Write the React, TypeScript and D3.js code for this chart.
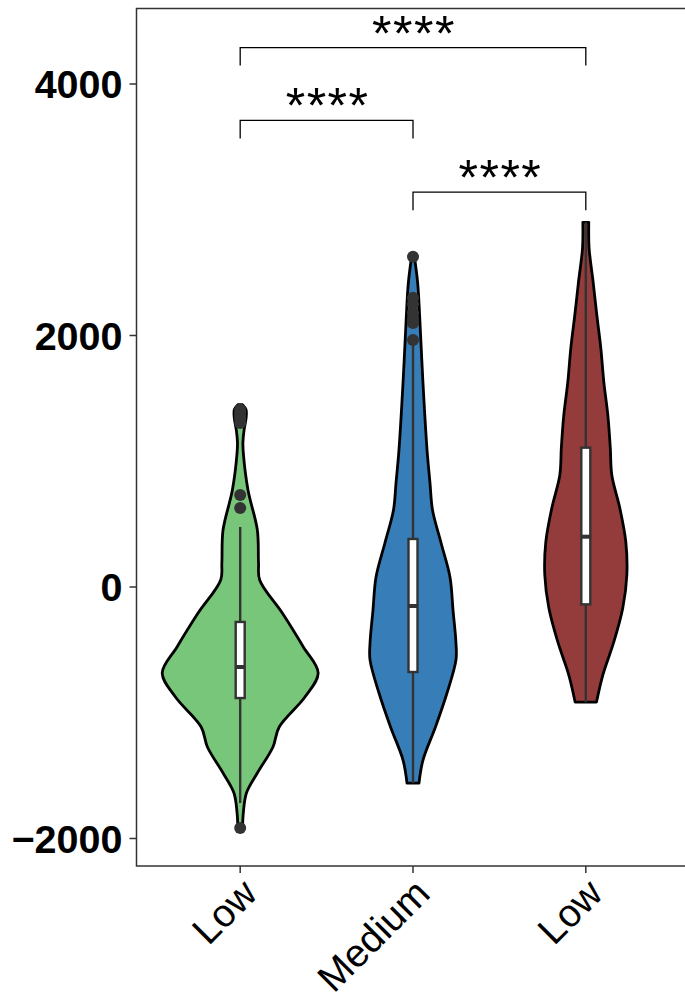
import React from "react";
import * as d3 from "d3";

// ---- data ----
const groupIds = ["g1", "g2", "g3"];
const groupLabels = ["Low", "Medium", "Low"];
const groupColors = ["#78C679", "#377EB8", "#943C3C"];

const yTicks = [-2000, 0, 2000, 4000];

// violin outlines: [value, relative density]
const densityG1: [number, number][] = [
  [1450, 0.03], [1410, 0.075], [1340, 0.075], [1250, 0.05], [1150, 0.035], [1066, 0.04],
  [771, 0.1], [453, 0.22], [191, 0.235], [56, 0.25], [-207, 0.54], [-477, 0.81],
  [-684, 1.0], [-875, 0.83], [-1113, 0.5], [-1272, 0.42], [-1479, 0.22],
  [-1638, 0.08], [-1797, 0.04], [-1925, 0.03],
];
const densityG2: [number, number][] = [
  [2640, 0.015], [2417, 0.06], [2147, 0.086], [1622, 0.128], [1089, 0.18], [827, 0.218],
  [612, 0.25], [350, 0.36], [80, 0.474], [-183, 0.513], [-445, 0.551], [-580, 0.551],
  [-843, 0.436], [-1113, 0.288], [-1376, 0.128], [-1559, 0.077],
];
const densityG3: [number, number][] = [
  [2900, 0.038], [2696, 0.042], [2425, 0.094], [2163, 0.141], [1901, 0.192], [1630, 0.231],
  [1368, 0.282], [1105, 0.314], [891, 0.333], [628, 0.436], [358, 0.513], [95, 0.526],
  [-167, 0.474], [-437, 0.359], [-700, 0.218], [-915, 0.137],
];
const densities = [densityG1, densityG2, densityG3];

// box stats: [whiskerLow, q1, median, q3, whiskerHigh]
const boxStats: [number, number, number, number, number][] = [
  [-1718, -883, -636, -278, 477],
  [-1559, -676, -151, 382, 1950],
  [-915, -138, 400, 1108, 2900],
];
const outliersG1 = [1410, 1385, 1360, 1335, 1305, 732, 628, -1917];
const outliersG2 = [2627, 2300, 2250, 2180, 2120, 2100, 1964];
const outliersG3: number[] = [];
const outliers = [outliersG1, outliersG2, outliersG3];

// significance comparisons: [from, to, bracket value, label]
const comparisons: [number, number, number, string][] = [
  [0, 1, 3710, "****"],
  [1, 2, 3140, "****"],
  [0, 2, 4290, "****"],
];

const W = 685;
const H = 999;
const panel = { left: 136.5, right: 689.5, top: 8.5, bottom: 866 };

export default function App() {
  const x = d3.scalePoint<string>().domain(groupIds).range([panel.left, panel.right]).padding(0.6);
  const y = d3.scaleLinear().domain([-2000, 4000]).range([838.5, 84]);
  const w = d3.scaleLinear().domain([0, 1]).range([0, 78]);
  const boxHalf = 4.5;
  const tickDrop = 18;

  return (
    <svg width={W} height={H} style={{ position: "absolute", left: 0, top: 0, background: "#fff" }}
      fontFamily="'Liberation Sans', Arial, Helvetica, sans-serif">
      <rect x={0} y={0} width={W} height={H} fill="#fff" />
      {/* violins */}
      {groupIds.map((g, i) => {
        const cx = x(g)!;
        const area = d3.area<[number, number]>()
          .y((d) => y(d[0]))
          .x0((d) => cx - w(d[1]))
          .x1((d) => cx + w(d[1]))
          .curve(d3.curveCatmullRom);
        return (
          <path key={"v" + g} d={area(densities[i]) || ""} fill={groupColors[i]} stroke="#000" strokeWidth={2.8} strokeLinejoin="round" />
        );
      })}
      {/* boxplots */}
      {groupIds.map((g, i) => {
        const cx = x(g)!;
        const [lo, q1, med, q3, hi] = boxStats[i];
        return (
          <g key={"b" + g}>
            <line x1={cx} x2={cx} y1={y(hi)} y2={y(q3)} stroke="#333" strokeWidth={2.4} />
            <line x1={cx} x2={cx} y1={y(q1)} y2={y(lo)} stroke="#333" strokeWidth={2.4} />
            <rect x={cx - boxHalf} width={boxHalf * 2} y={y(q3)} height={y(q1) - y(q3)} fill="#fff" stroke="#333" strokeWidth={2.4} />
            <line x1={cx - boxHalf} x2={cx + boxHalf} y1={y(med)} y2={y(med)} stroke="#333" strokeWidth={4} />
            {outliers[i].map((o, k) => (
              <circle key={k} cx={cx} cy={y(o)} r={6} fill="#333" />
            ))}
          </g>
        );
      })}
      {/* significance brackets */}
      {comparisons.map(([a, b, v, lab], k) => {
        const x1 = x(groupIds[a])!;
        const x2 = x(groupIds[b])!;
        const yy = y(v);
        return (
          <g key={"c" + k}>
            <path d={`M${x1},${yy + tickDrop}V${yy}H${x2}V${yy + tickDrop}`} fill="none" stroke="#000" strokeWidth={1.3} />
            <text x={(x1 + x2) / 2 + 1} y={yy + 3} textAnchor="middle" fontSize={50} letterSpacing={1.5} fill="#000">{lab}</text>
          </g>
        );
      })}
      {/* panel border */}
      <rect x={panel.left} y={panel.top} width={panel.right - panel.left} height={panel.bottom - panel.top} fill="none" stroke="#333" strokeWidth={1.5} />
      {/* y axis */}
      {yTicks.map((t) => (
        <g key={"y" + t}>
          <line x1={panel.left - 7} x2={panel.left} y1={y(t)} y2={y(t)} stroke="#333" strokeWidth={1.5} />
          <text x={panel.left - 14} y={y(t)} dy="0.36em" textAnchor="end" fontSize={39.5} fontWeight="bold" fill="#000">
            {t < 0 ? "\u2212" + Math.abs(t) : String(t)}
          </text>
        </g>
      ))}
      {/* x axis */}
      {groupIds.map((g, i) => {
        const cx = x(g)!;
        return (
          <g key={"x" + g}>
            <line x1={cx} x2={cx} y1={panel.bottom} y2={panel.bottom + 7} stroke="#333" strokeWidth={1.5} />
            <text transform={`translate(${cx - 1},${panel.bottom + 10}) rotate(-45)`} dy="0.72em" textAnchor="end" fontSize={39} fill="#000">
              {groupLabels[i]}
            </text>
          </g>
        );
      })}
    </svg>
  );
}
